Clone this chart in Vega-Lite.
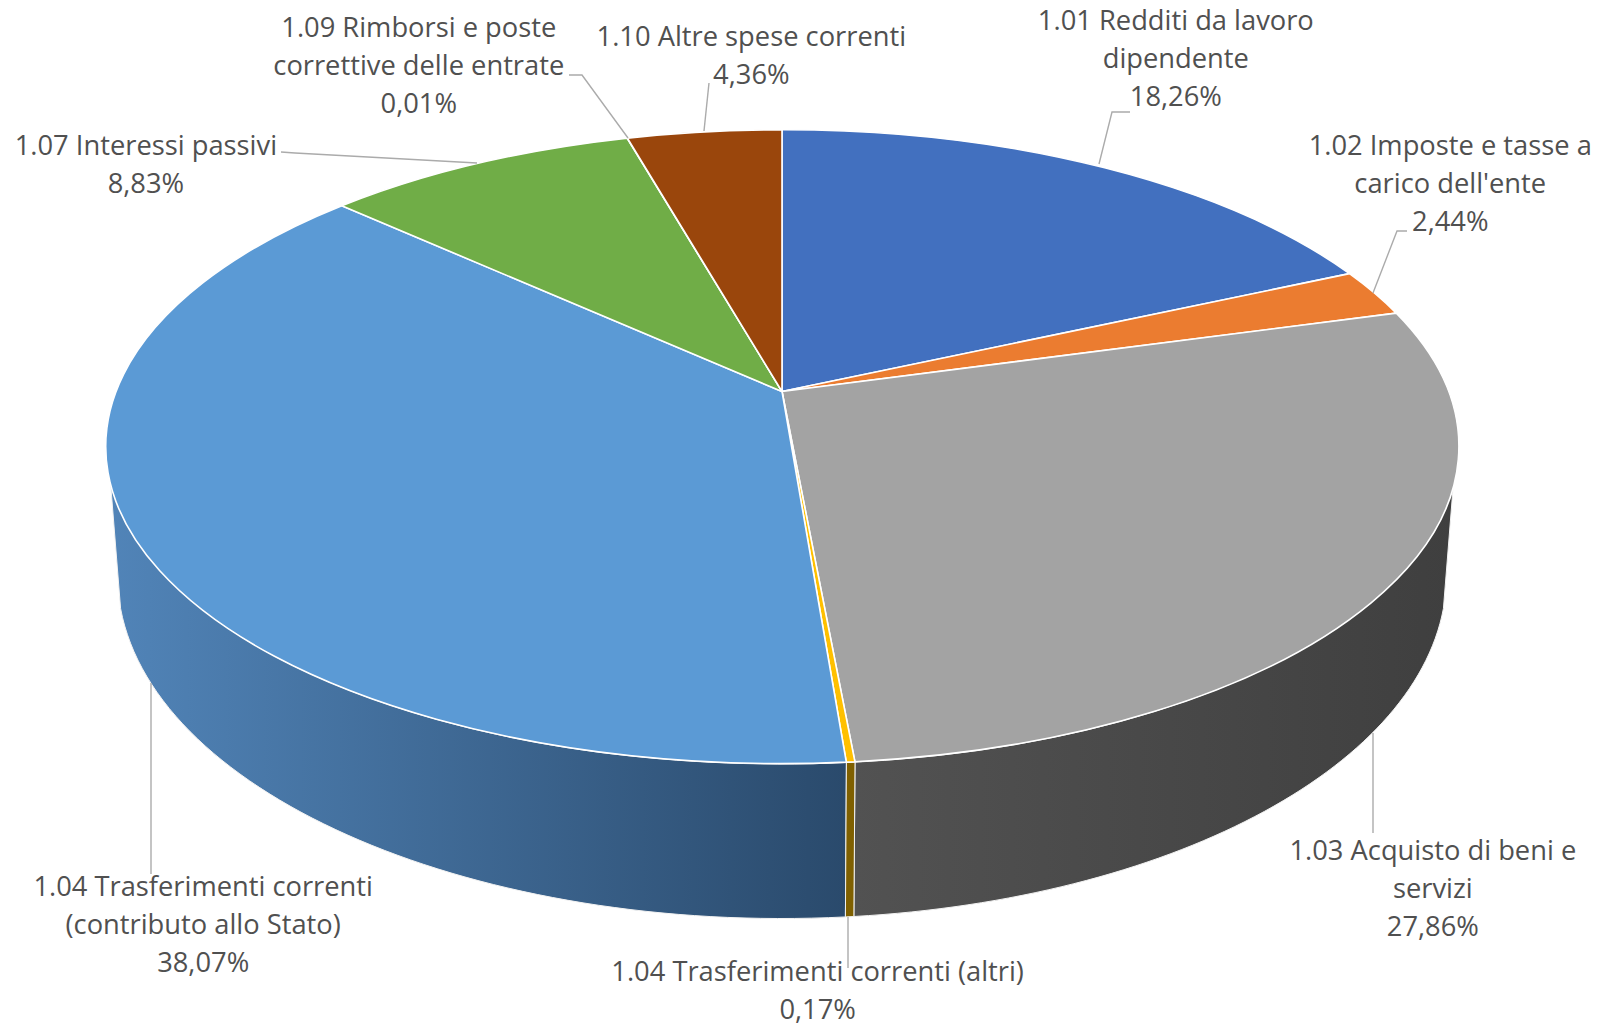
{"$schema":"https://vega.github.io/schema/vega-lite/v6.json","width":1603,"height":1025,"padding":0,"autosize":"none","background":"white","config":{"view":{"stroke":null}},
"data":{"values":[
{"voce":"1.01 Redditi da lavoro dipendente","pct":18.26,"etichetta":"1.01 Redditi da lavoro\ndipendente\n18,26%"},
{"voce":"1.02 Imposte e tasse a carico dell'ente","pct":2.44,"etichetta":"1.02 Imposte e tasse a\ncarico dell'ente\n2,44%"},
{"voce":"1.03 Acquisto di beni e servizi","pct":27.86,"etichetta":"1.03 Acquisto di beni e\nservizi\n27,86%"},
{"voce":"1.04 Trasferimenti correnti (altri)","pct":0.17,"etichetta":"1.04 Trasferimenti correnti (altri)\n0,17%"},
{"voce":"1.04 Trasferimenti correnti (contributo allo Stato)","pct":38.07,"etichetta":"1.04 Trasferimenti correnti\n(contributo allo Stato)\n38,07%"},
{"voce":"1.07 Interessi passivi","pct":8.83,"etichetta":"1.07 Interessi passivi\n8,83%"},
{"voce":"1.09 Rimborsi e poste correttive delle entrate","pct":0.01,"etichetta":"1.09 Rimborsi e poste\ncorrettive delle entrate\n0,01%"},
{"voce":"1.10 Altre spese correnti","pct":4.36,"etichetta":"1.10 Altre spese correnti\n4,36%"}
]},
"transform":[
{"window":[{"op":"sum","field":"pct","as":"cum"},{"op":"row_number","as":"n"}]},
{"calculate":"2*PI*(datum.cum-datum.pct)/100","as":"a0"},
{"calculate":"2*PI*datum.cum/100","as":"a1"},
{"calculate":"(datum.a0+datum.a1)/2","as":"am"},
{"calculate":"round(100*(-19.5+667*sin(datum.a0)/(1+0.174*cos(datum.a0))))/100","as":"x0"},
{"calculate":"round(100*(-121-307.3*cos(datum.a0)/(1+0.174*cos(datum.a0))))/100","as":"y0"},
{"calculate":"round(100*(-19.5+667*sin(datum.a1)/(1+0.174*cos(datum.a1))))/100","as":"x1"},
{"calculate":"round(100*(-121-307.3*cos(datum.a1)/(1+0.174*cos(datum.a1))))/100","as":"y1"},
{"calculate":"'M-19.5,-121L'+datum.x0+','+datum.y0+'A675,317 0 0 1 '+datum.x1+','+datum.y1+'Z'","as":"faccia"},
{"calculate":"(atan2((datum.x0+19.5)/675,-(datum.y0+65.5)/317)+2*PI)%(2*PI)","as":"t0"},
{"calculate":"(atan2((datum.x1+19.5)/675,-(datum.y1+65.5)/317)+2*PI)%(2*PI)","as":"t1"},
{"calculate":"clamp(datum.t0,1.667,4.616)","as":"w0"},
{"calculate":"clamp(datum.t1,1.667,4.616)","as":"w1"},
{"calculate":"'M'+round(100*(-19.5+675*sin(datum.w0)))/100+','+round(100*(-65.5-317*cos(datum.w0)))/100+'A675,317 0 0 1 '+round(100*(-19.5+675*sin(datum.w1)))/100+','+round(100*(-65.5-317*cos(datum.w1)))/100+'L'+round(100*(-19.5+664.5*sin(datum.w1)))/100+','+round(100*(63-343*cos(datum.w1)))/100+'A664.5,343 0 0 0 '+round(100*(-19.5+664.5*sin(datum.w0)))/100+','+round(100*(63-343*cos(datum.w0)))/100+'Z'","as":"parete"},
{"calculate":"width/2-19.5+667*sin(datum.am)/(1+0.174*cos(datum.am))+[78,76,42,-33,70,-331.5,-208.5,47][datum.n-1]","as":"lx"},
{"calculate":"height/2-121-307.3*cos(datum.am)/(1+0.174*cos(datum.am))+[-144,-146,267,211,350,-17,-109,-94][datum.n-1]","as":"ly"}
],
"layer":[
{"transform":[{"filter":"datum.n==3"}],"mark":{"type":"point","filled":true,"size":4,"opacity":1,"stroke":"#f2f2f2","strokeWidth":1,"fill":{"gradient":"linear","x1":0,"y1":0,"x2":1,"y2":0,"stops":[{"offset":0,"color":"#525252"},{"offset":1,"color":"#3f3f3f"}]}},"encoding":{"shape":{"field":"parete","type":"nominal","scale":null,"legend":null}}},
{"transform":[{"filter":"datum.n==5"}],"mark":{"type":"point","filled":true,"size":4,"opacity":1,"stroke":"#f2f2f2","strokeWidth":1,"fill":{"gradient":"linear","x1":0,"y1":0,"x2":1,"y2":0,"stops":[{"offset":0,"color":"#5184B8"},{"offset":1,"color":"#2A4A6C"}]}},"encoding":{"shape":{"field":"parete","type":"nominal","scale":null,"legend":null}}},
{"transform":[{"filter":"datum.n==4"}],"mark":{"type":"point","filled":true,"size":4,"opacity":1,"stroke":"#f2f2f2","strokeWidth":1,"fill":"#7F6000"},"encoding":{"shape":{"field":"parete","type":"nominal","scale":null,"legend":null}}},
{"mark":{"type":"point","filled":true,"size":4,"opacity":1,"stroke":"white","strokeWidth":1.6,"strokeJoin":"round"},"encoding":{"shape":{"field":"faccia","type":"nominal","scale":null,"legend":null},"fill":{"field":"voce","type":"nominal","legend":null,"sort":null,"scale":{"domain":["1.01 Redditi da lavoro dipendente","1.02 Imposte e tasse a carico dell'ente","1.03 Acquisto di beni e servizi","1.04 Trasferimenti correnti (altri)","1.04 Trasferimenti correnti (contributo allo Stato)","1.07 Interessi passivi","1.09 Rimborsi e poste correttive delle entrate","1.10 Altre spese correnti"],"range":["#4270BF","#EB7C30","#A3A3A3","#FFC000","#5B9AD5","#70AD47","#264478","#9A460C"]}}}},
{"mark":{"type":"point","filled":false,"size":4,"opacity":1,"stroke":"#ABABAB","strokeWidth":1.4},"encoding":{"shape":{"field":"voce","type":"nominal","legend":null,"scale":{"domain":["1.01 Redditi da lavoro dipendente","1.02 Imposte e tasse a carico dell'ente","1.03 Acquisto di beni e servizi","1.04 Trasferimenti correnti (altri)","1.04 Trasferimenti correnti (contributo allo Stato)","1.07 Interessi passivi","1.09 Rimborsi e poste correttive delle entrate","1.10 Altre spese correnti"],"range":["M297.5,-348.5L310.5,-400.5L328.5,-400.5","M571.5,-219.5L595.5,-281.5L605.5,-281.5","M571.5,220.5L571.5,320.5","M46.5,404.5L46.5,455.5","M-650.5,170.5L-650.5,361.5","M-520.5,-360.5L-506.5,-359.5L-324.5,-349.5","M-173.5,-374.5L-219.5,-437.5L-232.5,-437.5","M-97.5,-381.5L-92.5,-429.5"]}}}},
{"mark":{"type":"text","font":"Open Sans","fontSize":27.3,"color":"#505050","lineBreak":"\n","lineHeight":38,"align":"center","baseline":"middle"},"encoding":{"text":{"field":"etichetta"},"x":{"field":"lx","type":"quantitative","axis":null,"scale":{"domain":[0,1603],"range":[0,1603]}},"y":{"field":"ly","type":"quantitative","axis":null,"scale":{"domain":[0,1025],"range":[0,1025]}}}}
]}
